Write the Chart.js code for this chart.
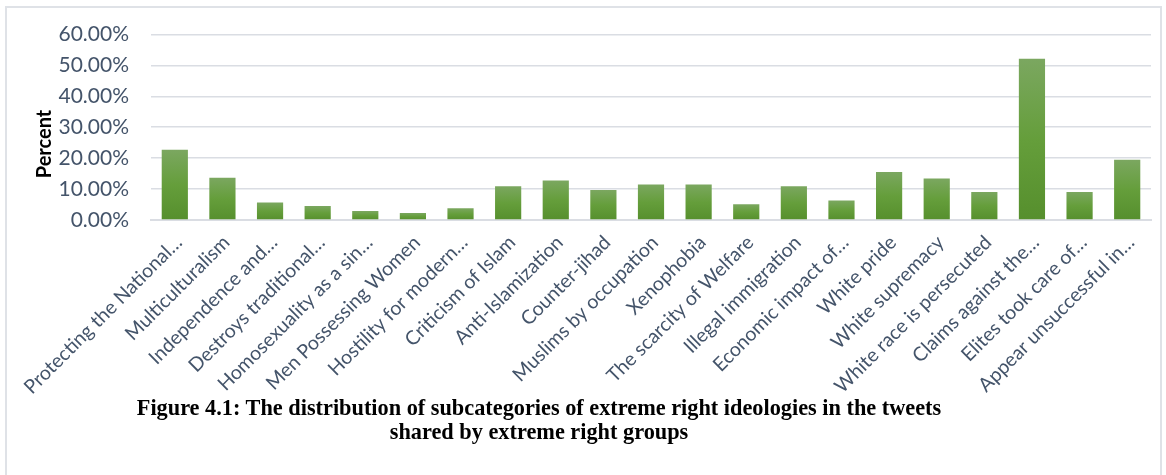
<!DOCTYPE html>
<html>
<head>
<meta charset="utf-8">
<script src="https://cdn.jsdelivr.net/npm/chart.js@4/dist/chart.umd.min.js"></script>
<style>
  html, body { margin: 0; padding: 0; background: #fff; }
  #wrap { position: relative; width: 1166px; height: 475px; overflow: hidden; }
  #frame { position: absolute; left: 5px; top: 6px; width: 1157px; height: 500px;
           border: 2px solid #dfe2e7; box-sizing: border-box; }
  #chart { position: absolute; left: 0; top: 0; }
  #caption { position: absolute; left: 0; width: 1078px; top: 396px; text-align: center;
             font-family: "Liberation Serif", "Times New Roman", serif; font-weight: bold;
             font-size: 22.3px; line-height: 24px; color: #000; }
</style>
</head>
<body>
<div id="wrap">
  <div id="frame"></div>
  <canvas id="chart" width="1166" height="475"></canvas>
  <div id="caption">Figure 4.1: The distribution of subcategories of extreme right ideologies in the tweets<br>shared by extreme right groups</div>
</div>
<script>
// Subcategories (as they appear, truncated, on the axis)
const categories = [
  "Protecting the National…",
  "Multiculturalism",
  "Independence and…",
  "Destroys traditional…",
  "Homosexuality as a sin…",
  "Men Possessing Women",
  "Hostility for modern…",
  "Criticism of Islam",
  "Anti-Islamization",
  "Counter-jihad",
  "Muslims by occupation",
  "Xenophobia",
  "The scarcity of Welfare",
  "Illegal immigration",
  "Economic impact of…",
  "White pride",
  "White supremacy",
  "White race is persecuted",
  "Claims against the…",
  "Elites took care of…",
  "Appear unsuccessful in…"
];

// Share of tweets per subcategory, in percent
const percentValues = [
  22.7, 13.7, 5.7, 4.5, 2.9, 2.3, 3.8, 10.9, 12.8, 9.7, 11.5,
  11.5, 5.1, 10.9, 6.3, 15.5, 13.4, 9.1, 52.2, 9.1, 19.5
];

// Value axis ticks
const yTicks = [0, 10, 20, 30, 40, 50, 60];

const tickColor = "#44546a";
const gridColor = "#dadde3";
const labelFont = "Lato, 'Open Sans', sans-serif";

// Vertical green gradient for each bar, light at the top, darker at the base
function barGradient(ctx) {
  const chart = ctx.chart;
  const y = chart.scales.y;
  if (!y || ctx.parsed === undefined) return "#62993a";
  const top = y.getPixelForValue(ctx.parsed.y);
  const base = y.getPixelForValue(0);
  if (!isFinite(top) || !isFinite(base) || top === base) return "#62993a";
  const g = chart.ctx.createLinearGradient(0, top, 0, base);
  g.addColorStop(0, "#7ba760");
  g.addColorStop(0.5, "#659e3b");
  g.addColorStop(1, "#568f2d");
  return g;
}

// Rotated axis title drawn beside the value labels
const yTitlePlugin = {
  id: "yTitle",
  afterDraw(chart) {
    const c = chart.ctx;
    c.save();
    c.translate(45, 144);
    c.rotate(-Math.PI / 2);
    c.font = "bold 20px " + labelFont;
    c.fillStyle = "#000";
    c.textAlign = "center";
    c.textBaseline = "middle";
    c.fillText("Percent", 0, 0);
    c.restore();
  }
};

new Chart(document.getElementById("chart"), {
  type: "bar",
  data: {
    labels: categories,
    datasets: [{
      data: percentValues,
      backgroundColor: barGradient,
      borderWidth: 0,
      categoryPercentage: 1,
      barPercentage: 0.55
    }]
  },
  options: {
    responsive: false,
    animation: false,
    events: [],
    layout: { padding: { top: 24, right: 15, bottom: 0, left: 0 } },
    plugins: { legend: { display: false }, tooltip: { enabled: false } },
    scales: {
      x: {
        grid: { display: false, drawTicks: false },
        border: { display: true, color: gridColor, width: 2 },
        ticks: {
          autoSkip: false,
          maxRotation: 45,
          minRotation: 45,
          padding: 11,
          labelOffset: 4,
          color: tickColor,
          font: { family: labelFont, size: 19.5 }
        },
        afterFit(scale) { scale.height = 255; }
      },
      y: {
        min: 0,
        max: 60,
        afterBuildTicks(scale) { scale.ticks = yTicks.map(v => ({ value: v })); },
        grid: { color: gridColor, lineWidth: 1.6, drawTicks: false },
        border: { display: false },
        ticks: {
          padding: 22,
          color: tickColor,
          font: { family: labelFont, size: 21 },
          callback: v => v.toFixed(2) + "%"
        },
        afterFit(scale) { scale.width = 151; }
      }
    }
  },
  plugins: [yTitlePlugin]
});
</script>
</body>
</html>
